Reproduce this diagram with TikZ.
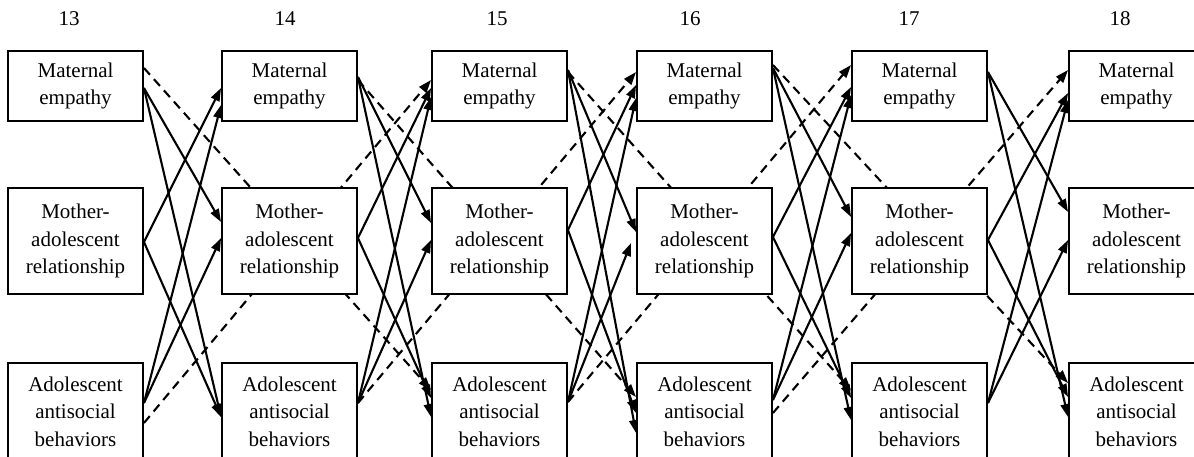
\documentclass[tikz,border=0pt]{standalone}
\usepackage{fontspec}
\setmainfont{Liberation Serif}
\usetikzlibrary{arrows.meta}
\pgfdeclarelayer{bg}
\pgfsetlayers{bg,main}
\begin{document}
\begin{tikzpicture}[x=1pt,y=-1pt,
  box/.style={draw, line width=1.9pt, fill=white, minimum width=135pt, inner sep=0pt, align=center,
    font=\fontsize{21}{27.5}\selectfont},
  mebox/.style={box, minimum height=70pt},
  marbox/.style={box, minimum height=106pt},
  aabbox/.style={box, minimum height=97pt},
  hdr/.style={font=\fontsize{21}{24}\selectfont, inner sep=0pt},
  sol/.style={line width=2.1pt, -{Triangle[length=13pt,width=9pt]}},
  dsh/.style={line width=2.1pt, dash pattern=on 9pt off 6pt, -{Triangle[length=13pt,width=9pt]}}]
\useasboundingbox (0,0) rectangle (1194,457);
% headers
\node[hdr] (h13) at (69,19) {13};
\node[hdr] (h14) at (285,19) {14};
\node[hdr] (h15) at (497,19) {15};
\node[hdr] (h16) at (690,19) {16};
\node[hdr] (h17) at (909,19) {17};
\node[hdr] (h18) at (1120,19) {18};
% boxes
\foreach \c/\x in {13/75.5,14/289.5,15/499.5,16/704.5,17/919.5,18/1136.5}{
  \node[mebox] (ME\c) at (\x,86) {Maternal\\empathy};
  \node[marbox] (MAR\c) at (\x,241) {Mother-\\adolescent\\relationship};
  \node[aabbox] (AAB\c) at (\x,411.5) {Adolescent\\antisocial\\behaviors};
}
\begin{pgfonlayer}{bg}
% lag-2 dashed paths
\draw[dsh] (ME13.east |- 0,68) -- (AAB15.west |- 0,390);
\draw[dsh] (AAB13.east |- 0,423) -- (ME15.west |- 0,80);
\draw[dsh] (ME14.east |- 0,80) -- (AAB16.west |- 0,397);
\draw[dsh] (AAB14.east |- 0,403) -- (ME16.west |- 0,72);
\draw[dsh] (ME15.east |- 0,72) -- (AAB17.west |- 0,390);
\draw[dsh] (AAB15.east |- 0,402) -- (ME17.west |- 0,65);
\draw[dsh] (ME16.east |- 0,65) -- (AAB18.west |- 0,383);
\draw[dsh] (AAB16.east |- 0,413) -- (ME18.west |- 0,70);
% gap 13-14
\draw[sol] (ME13.east |- 0,88) -- (MAR14.west |- 0,222);
\draw[sol] (ME13.east |- 0,88) -- (AAB14.west |- 0,417);
\draw[sol] (MAR13.east |- 0,242) -- (ME14.west |- 0,88);
\draw[sol] (MAR13.east |- 0,242) -- (AAB14.west |- 0,417);
\draw[sol] (AAB13.east |- 0,403) -- (ME14.west |- 0,105);
\draw[sol] (AAB13.east |- 0,403) -- (MAR14.west |- 0,238);
% gap 14-15
\draw[sol] (ME14.east |- 0,77) -- (MAR15.west |- 0,223);
\draw[sol] (ME14.east |- 0,77) -- (AAB15.west |- 0,417);
\draw[sol] (MAR14.east |- 0,238) -- (ME15.west |- 0,88);
\draw[sol] (MAR14.east |- 0,238) -- (AAB15.west |- 0,398);
\draw[sol] (AAB14.east |- 0,403) -- (ME15.west |- 0,97);
\draw[sol] (AAB14.east |- 0,403) -- (MAR15.west |- 0,240);
% gap 15-16
\draw[sol] (ME15.east |- 0,70) -- (MAR16.west |- 0,232);
\draw[sol] (ME15.east |- 0,70) -- (AAB16.west |- 0,433);
\draw[sol] (MAR15.east |- 0,230) -- (ME16.west |- 0,85);
\draw[sol] (MAR15.east |- 0,230) -- (AAB16.west |- 0,413);
\draw[sol] (AAB15.east |- 0,402) -- (ME16.west |- 0,98);
\draw[sol] (AAB15.east |- 0,402) -- ([xshift=-5pt]MAR16.west |- 0,243);
% gap 16-17
\draw[sol] (ME16.east |- 0,68) -- (MAR17.west |- 0,217);
\draw[sol] (ME16.east |- 0,68) -- (AAB17.west |- 0,420);
\draw[sol] (MAR16.east |- 0,237) -- (ME17.west |- 0,87);
\draw[sol] (MAR16.east |- 0,237) -- (AAB17.west |- 0,398);
\draw[sol] (AAB16.east |- 0,400) -- (ME17.west |- 0,95);
\draw[sol] (AAB16.east |- 0,400) -- (MAR17.west |- 0,233);
% gap 17-18
\draw[sol] (ME17.east |- 0,72) -- (MAR18.west |- 0,212);
\draw[sol] (ME17.east |- 0,72) -- (AAB18.west |- 0,417);
\draw[sol] (MAR17.east |- 0,240) -- (ME18.west |- 0,93);
\draw[sol] (MAR17.east |- 0,240) -- (AAB18.west |- 0,397);
\draw[sol] (AAB17.east |- 0,403) -- (ME18.west |- 0,100);
\draw[sol] (AAB17.east |- 0,403) -- (MAR18.west |- 0,240);
\end{pgfonlayer}
\end{tikzpicture}
\end{document}
